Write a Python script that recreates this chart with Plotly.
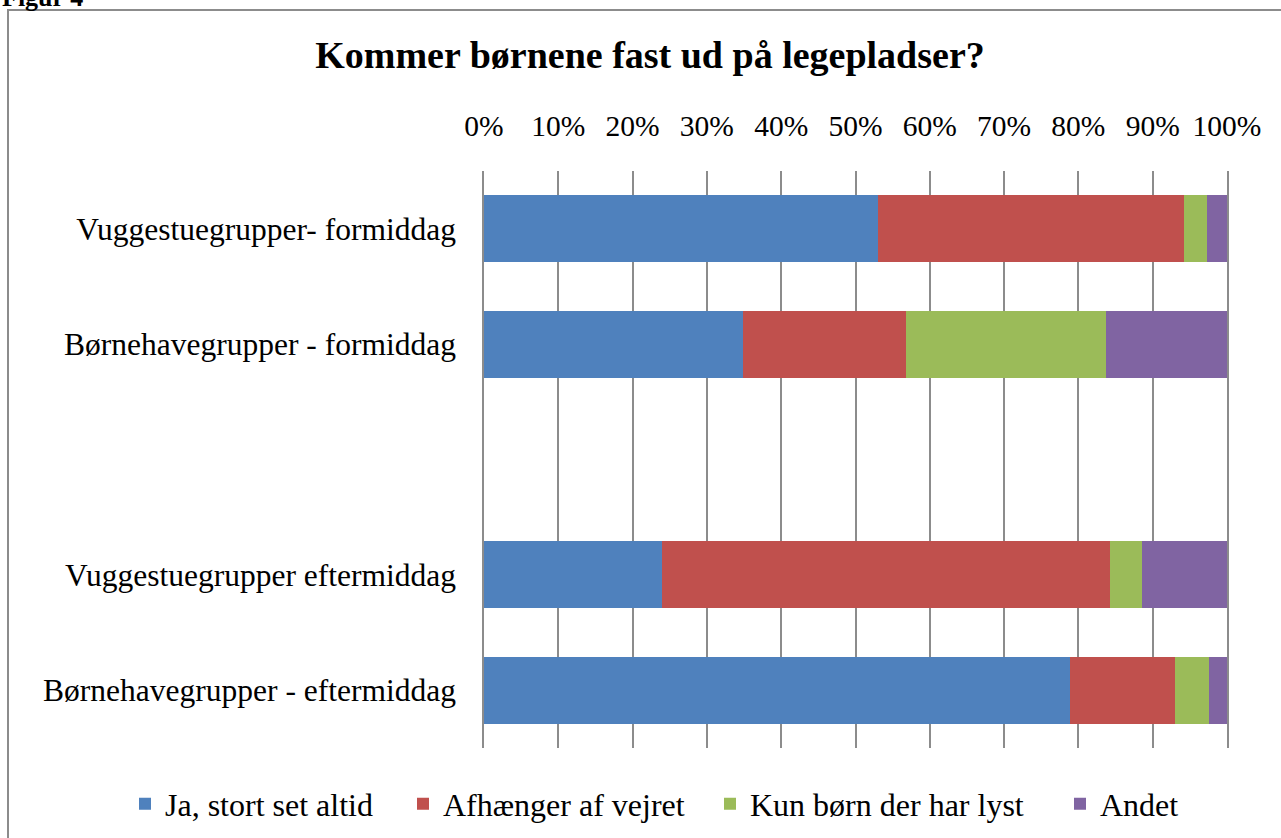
import plotly.graph_objects as go

categories = [
    "Vuggestuegrupper- formiddag",
    "Børnehavegrupper - formiddag",
    " ",
    "Vuggestuegrupper eftermiddag",
    "Børnehavegrupper - eftermiddag",
]
series_names = ["Ja, stort set altid", "Afhænger af vejret", "Kun børn der har lyst", "Andet"]
ja = [53.0, 34.9, None, 24.0, 78.9]
afhaenger = [41.2, 21.9, None, 60.2, 14.1]
kun = [3.1, 26.9, None, 4.3, 4.6]
andet = [2.7, 16.3, None, 11.5, 2.4]
colors = ["#4F81BD", "#C0504D", "#9BBB59", "#8064A2"]
tick_vals = [0, 10, 20, 30, 40, 50, 60, 70, 80, 90, 100]

FONT = "Liberation Serif"
GRID = "#8C8C8C"

W, H = 1281, 838
L, R, T, B = 484, 54, 171, 90
pw, ph = W - L - R, H - T - B

def px_x(p):
    return (p - L) / pw

def px_y(p):
    return 1 - (p - T) / ph

legend_ids = ["legend", "legend2", "legend3", "legend4"]
legend_left_px = [125, 403, 710, 1060]

fig = go.Figure()
for name, vals, col, lid in zip(series_names, [ja, afhaenger, kun, andet], colors, legend_ids):
    fig.add_trace(go.Bar(
        y=categories, x=vals, name=name, orientation="h",
        marker=dict(color=col, line=dict(width=0)), legend=lid,
    ))

legend_layout = {}
for lid, lx in zip(legend_ids, legend_left_px):
    legend_layout[lid] = dict(
        orientation="h", xref="paper", yref="paper",
        x=px_x(lx), xanchor="left", y=px_y(804), yanchor="middle",
        font=dict(family=FONT, size=32), itemwidth=30,
        bgcolor="rgba(0,0,0,0)",
    )

fig.update_layout(
    width=W, height=H,
    barmode="stack", bargap=0.42,
    plot_bgcolor="white", paper_bgcolor="white",
    margin=dict(l=L, r=R, t=T, b=B, autoexpand=False),
    font=dict(family=FONT, size=32, color="black"),
    title=dict(text="<b>Kommer børnene fast ud på legepladser?</b>",
               x=650 / W, xanchor="center", xref="container",
               y=1 - 55 / H, yanchor="middle", yref="container",
               font=dict(family=FONT, size=38, color="black")),
    xaxis=dict(side="top", range=[0, 100], tickvals=tick_vals,
               ticktext=[f"{v}%" for v in tick_vals],
               tickfont=dict(family=FONT, size=29.5),
               showgrid=True, gridcolor=GRID, gridwidth=1.5,
               zeroline=False, showline=False, ticks="",
               ticklabelstandoff=28, fixedrange=True),
    yaxis=dict(autorange="reversed", showgrid=False, zeroline=False,
               showline=True, mirror=True, linecolor=GRID, linewidth=1.5,
               ticks="", ticklabelstandoff=20,
               tickfont=dict(family=FONT, size=31.5),
               categoryorder="array", categoryarray=categories),
    showlegend=True,
    shapes=[
        dict(type="rect", xref="paper", yref="paper",
             x0=px_x(8), x1=px_x(1320), y0=px_y(880), y1=px_y(10),
             line=dict(color=GRID, width=2), fillcolor="rgba(0,0,0,0)",
             layer="below"),
    ],
    annotations=[
        dict(text="<b>Figur 4</b>", xref="paper", yref="paper",
             x=px_x(0), y=px_y(14), xanchor="left", yanchor="bottom",
             showarrow=False, font=dict(family=FONT, size=26, color="black")),
    ],
    **legend_layout,
)

fig.write_html("out.html", config={"displayModeBar": False},
               post_script="document.body.style.margin='0';")
